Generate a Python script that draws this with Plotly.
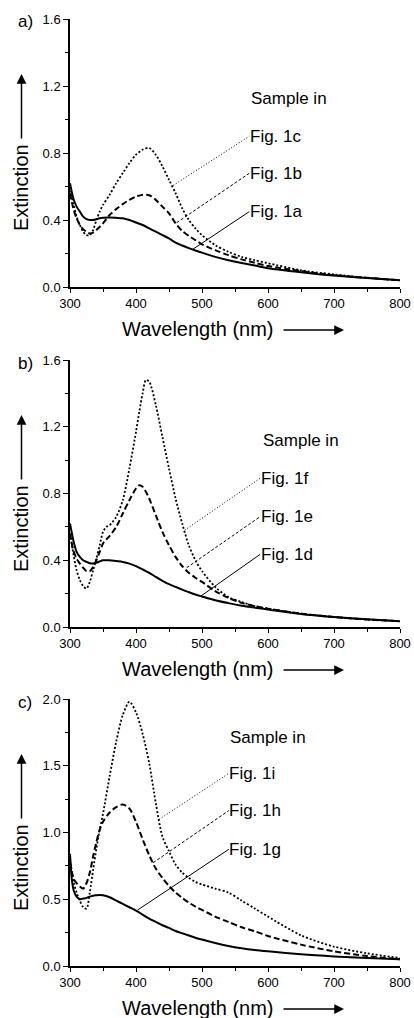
import plotly.graph_objects as go

# ---------------- DATA ----------------
wl_a = [300, 305, 310, 315, 320, 325, 330, 335, 340, 345, 350, 360, 370, 380, 390, 400, 410, 420,
        430, 440, 450, 460, 470, 480, 490, 500, 520, 540, 560, 580, 600, 650, 700, 750, 800]
fig1a = [0.62, 0.53, 0.48, 0.45, 0.42, 0.405, 0.40, 0.40, 0.405, 0.41, 0.413, 0.415, 0.413, 0.41, 0.40, 0.385,
         0.37, 0.35, 0.33, 0.31, 0.29, 0.265, 0.248, 0.232, 0.218, 0.205, 0.18, 0.16, 0.143, 0.128, 0.112,
         0.088, 0.068, 0.053, 0.04]
fig1b = [0.56, 0.47, 0.41, 0.37, 0.345, 0.33, 0.32, 0.325, 0.34, 0.36, 0.38, 0.43, 0.465, 0.495, 0.52, 0.54,
         0.55, 0.548, 0.52, 0.48, 0.44, 0.38, 0.335, 0.305, 0.28, 0.255, 0.22, 0.19, 0.165, 0.145, 0.125,
         0.095, 0.07, 0.055, 0.04]
fig1c = [0.60, 0.50, 0.42, 0.37, 0.33, 0.31, 0.31, 0.34, 0.40, 0.45, 0.49, 0.55, 0.62, 0.68, 0.74, 0.79,
         0.82, 0.83, 0.79, 0.72, 0.64, 0.56, 0.47, 0.40, 0.35, 0.31, 0.25, 0.21, 0.18, 0.16, 0.142,
         0.10, 0.075, 0.055, 0.04]

wl_b = [300, 305, 310, 315, 320, 325, 330, 335, 340, 345, 350, 355, 360, 370, 380, 390, 400, 405, 410, 415,
        420, 430, 440, 450, 460, 470, 480, 490, 500, 520, 540, 560, 580, 600, 650, 700, 750, 800]
fig1d = [0.62, 0.52, 0.45, 0.42, 0.40, 0.39, 0.382, 0.38, 0.385, 0.393, 0.40, 0.40, 0.40, 0.395, 0.39, 0.38,
         0.365, 0.355, 0.345, 0.335, 0.325, 0.30, 0.277, 0.257, 0.24, 0.224, 0.209, 0.195, 0.183, 0.16,
         0.143, 0.128, 0.116, 0.105, 0.078, 0.06, 0.046, 0.035]
fig1e = [0.56, 0.46, 0.41, 0.38, 0.355, 0.335, 0.335, 0.36, 0.40, 0.45, 0.50, 0.525, 0.545, 0.60, 0.68, 0.76,
         0.83, 0.85, 0.84, 0.81, 0.77, 0.67, 0.57, 0.49, 0.42, 0.365, 0.325, 0.295, 0.27, 0.215, 0.175,
         0.145, 0.125, 0.11, 0.08, 0.06, 0.045, 0.035]
fig1f = [0.56, 0.44, 0.34, 0.28, 0.245, 0.23, 0.27, 0.34, 0.41, 0.49, 0.57, 0.60, 0.61, 0.66, 0.76, 0.95,
         1.17, 1.29, 1.40, 1.48, 1.47, 1.33, 1.14, 0.95, 0.77, 0.62, 0.49, 0.40, 0.335, 0.24, 0.18, 0.15,
         0.125, 0.11, 0.08, 0.06, 0.045, 0.035]

wl_c = [300, 303, 306, 310, 315, 320, 325, 330, 335, 340, 345, 350, 360, 370, 380, 390, 400, 410, 420, 430,
        440, 450, 460, 470, 480, 490, 500, 520, 540, 560, 580, 600, 650, 700, 750, 800]
fig1g = [0.84, 0.64, 0.56, 0.52, 0.50, 0.505, 0.51, 0.52, 0.527, 0.53, 0.532, 0.53, 0.515, 0.49, 0.465, 0.44,
         0.415, 0.385, 0.355, 0.33, 0.305, 0.285, 0.262, 0.245, 0.228, 0.212, 0.198, 0.172, 0.15, 0.133,
         0.12, 0.11, 0.088, 0.072, 0.06, 0.05]
fig1h = [0.78, 0.70, 0.65, 0.62, 0.595, 0.58, 0.62, 0.70, 0.82, 0.93, 1.02, 1.08, 1.15, 1.19, 1.21, 1.18,
         1.08, 0.95, 0.83, 0.73, 0.66, 0.60, 0.55, 0.51, 0.475, 0.445, 0.42, 0.37, 0.33, 0.29, 0.26, 0.225,
         0.16, 0.11, 0.075, 0.05]
fig1i = [0.80, 0.70, 0.62, 0.55, 0.49, 0.44, 0.43, 0.55, 0.72, 0.88, 1.02, 1.14, 1.42, 1.68, 1.88, 1.98,
         1.90, 1.74, 1.52, 1.22, 0.97, 0.86, 0.76, 0.70, 0.66, 0.63, 0.61, 0.58, 0.55, 0.49, 0.43, 0.37,
         0.23, 0.145, 0.095, 0.06]

panel_labels = ["a)", "b)", "c)"]
series_names = [["Fig. 1a", "Fig. 1b", "Fig. 1c"],
                ["Fig. 1d", "Fig. 1e", "Fig. 1f"],
                ["Fig. 1g", "Fig. 1h", "Fig. 1i"]]
y_ranges = [[0, 1.6], [0, 1.6], [0, 2.0]]
y_dticks = [0.4, 0.4, 0.5]
x_title = "Wavelength (nm)"
y_title = "Extinction"
legend_head = "Sample in"

# ---------------- LAYOUT CONSTANTS ----------------
W, H = 414, 1018
FONT = "Arial, Liberation Sans, sans-serif"
panels_px = [(19, 287), (360, 627), (699, 966)]  # top, bottom pixel of plot areas
x_px = (70, 400)

def px(x):
    return x / W

def py(y):
    return 1 - y / H

fig = go.Figure()

data_sets = [(wl_a, [fig1a, fig1b, fig1c]),
             (wl_b, [fig1d, fig1e, fig1f]),
             (wl_c, [fig1g, fig1h, fig1i])]
styles = [dict(dash="solid", width=2.0),
          dict(dash="6px,3px", width=2.0),
          dict(dash="2px,2px", width=1.8)]

for p, (wl, ys) in enumerate(data_sets):
    xa = "x" if p == 0 else f"x{p+1}"
    ya = "y" if p == 0 else f"y{p+1}"
    for s, yv in enumerate(ys):
        fig.add_trace(go.Scatter(
            x=wl, y=yv, mode="lines", xaxis=xa, yaxis=ya,
            name=series_names[p][s], showlegend=False,
            line=dict(color="black", width=styles[s]["width"], dash=styles[s]["dash"],
                      shape="spline", smoothing=0.8)))

axis_common = dict(showline=True, linecolor="black", linewidth=1.5, showgrid=False, zeroline=False,
                   ticks="outside", ticklen=5, tickwidth=1.2, tickcolor="black", automargin=False,
                   tickfont=dict(family=FONT, size=13, color="black"))

layout = dict(template="none", width=W, height=H, margin=dict(l=0, r=0, t=0, b=0, pad=0),
              paper_bgcolor="white", plot_bgcolor="white", showlegend=False)

for p in range(3):
    top, bot = panels_px[p]
    xk = "xaxis" if p == 0 else f"xaxis{p+1}"
    yk = "yaxis" if p == 0 else f"yaxis{p+1}"
    ya = "y" if p == 0 else f"y{p+1}"
    xa = "x" if p == 0 else f"x{p+1}"
    layout[xk] = dict(axis_common, domain=[px(x_px[0]), px(x_px[1])], anchor=ya,
                      range=[300, 800], tick0=300, dtick=100, ticklen=4,
                      minor=dict(dtick=50, ticklen=3, ticks="outside", tickcolor="black", tickwidth=1))
    layout[yk] = dict(axis_common, domain=[py(bot), py(top)], anchor=xa,
                      range=y_ranges[p], tick0=0, dtick=y_dticks[p], tickformat=".1f",
                      minor=dict(dtick=y_dticks[p] / 2, ticklen=3, ticks="outside",
                                 tickcolor="black", tickwidth=1))

fig.update_layout(**layout)

# annotation positions (data coords)
ann = [
    dict(sx=571, sy=1.128, lx=572.5, ly=[0.45, 0.679, 0.90], ex=571.7,
         starts=[(486, 0.225), (461.6, 0.384), (456.5, 0.607)]),
    dict(sx=589, sy=1.116, lx=590, ly=[0.435, 0.661, 0.891], ex=588,
         starts=[(498.5, 0.186), (476.8, 0.355), (474, 0.581)]),
    dict(sx=539, sy=1.713, lx=541.6, ly=[0.874, 1.164, 1.443], ex=540.6,
         starts=[(402.3, 0.419), (426, 0.774), (435.3, 1.099)]),
]
leader_dash = ["solid", "3px,2px", "1px,2px"]

annotations = []
shapes = []
for p in range(3):
    top, bot = panels_px[p]
    xa = "x" if p == 0 else f"x{p+1}"
    ya = "y" if p == 0 else f"y{p+1}"
    a = ann[p]
    annotations.append(dict(x=a["sx"], y=a["sy"], xref=xa, yref=ya, text=legend_head, showarrow=False,
                            xanchor="left", yanchor="middle", font=dict(family=FONT, size=17, color="black")))
    for s in range(3):
        annotations.append(dict(x=a["lx"], y=a["ly"][s], xref=xa, yref=ya, text=series_names[p][s],
                                showarrow=False, xanchor="left", yanchor="middle", xshift=-2,
                                font=dict(family=FONT, size=17, color="black")))
        x0, y0 = a["starts"][s]
        shapes.append(dict(type="line", xref=xa, yref=ya, x0=x0, y0=y0, x1=a["ex"], y1=a["ly"][s],
                           line=dict(color="black", width=1, dash=leader_dash[s])))
    # panel label
    annotations.append(dict(x=px(25), y=py(top + 3), xref="paper", yref="paper", text=panel_labels[p],
                            showarrow=False, xanchor="center", yanchor="middle",
                            font=dict(family=FONT, size=17, color="black")))
    # y title + arrow
    annotations.append(dict(x=px(21), y=py(top + 169), xref="paper", yref="paper", text=y_title,
                            textangle=-90, showarrow=False, xanchor="center", yanchor="middle",
                            font=dict(family=FONT, size=20, color="black")))
    annotations.append(dict(x=px(21.5), y=py(top + 55), xref="paper", yref="paper", text="",
                            showarrow=True, ax=0, ay=66, arrowhead=2, arrowsize=1.3, arrowwidth=1.5,
                            arrowcolor="black"))
    # x title + arrow
    annotations.append(dict(x=px(198), y=py(bot + 42), xref="paper", yref="paper", text=x_title,
                            showarrow=False, xanchor="center", yanchor="middle",
                            font=dict(family=FONT, size=20, color="black")))
    annotations.append(dict(x=px(344), y=py(bot + 43), xref="paper", yref="paper", text="",
                            showarrow=True, ax=-62, ay=0, arrowhead=2, arrowsize=1.3, arrowwidth=1.5,
                            arrowcolor="black"))

fig.update_layout(annotations=annotations, shapes=shapes)

fig.write_html("out.html", config={"displayModeBar": False},
               post_script="document.body.style.margin='0';")
